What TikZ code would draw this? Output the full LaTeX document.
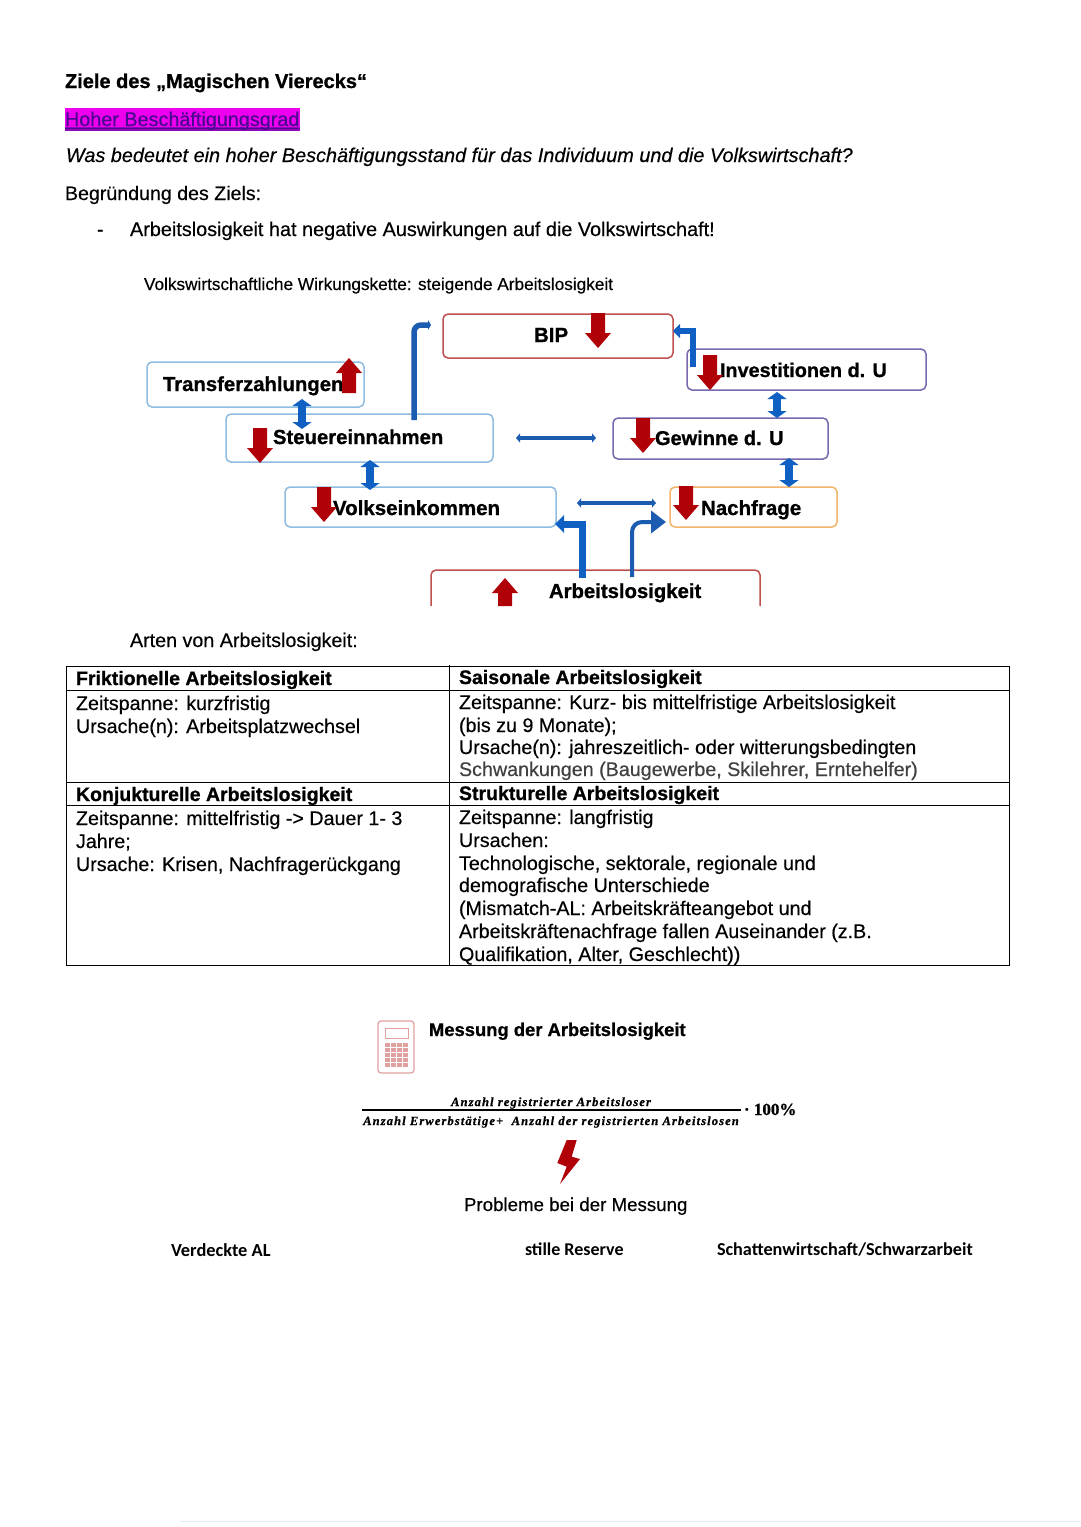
\documentclass[tikz,border=0pt]{standalone}
\usepackage{fontspec}
\setmainfont{Liberation Sans}[FakeBold=0.35,BoldFeatures={FakeBold=0.9},ItalicFeatures={FakeBold=0.35}]
\newfontfamily\serifF{Liberation Serif}[BoldFeatures={FakeBold=0.8},BoldItalicFeatures={FakeBold=0.8}]
\newfontfamily\carl{Carlito}
\usetikzlibrary{arrows.meta}
\definecolor{redB}{HTML}{C0504D}
\definecolor{blueB}{HTML}{8FBCE0}
\definecolor{purpB}{HTML}{7A68AE}
\definecolor{orB}{HTML}{F2B56B}
\definecolor{arrRed}{HTML}{B00008}
\definecolor{arrBlue}{HTML}{1060C4}
\definecolor{conBlue}{HTML}{1B5CB0}
\definecolor{calc}{HTML}{E0A0A0}
\definecolor{mag}{HTML}{EE00EE}
\definecolor{magText}{HTML}{4A0A90}
\newcommand{\fs}[1]{\fontsize{#1}{#1}\selectfont}
\newcommand{\T}[5]{\node[txt,font=#4] (#1) at (#2,#3) {#5};}
\newcommand{\Bx}[6]{\node[bx,draw=#6,minimum width=#4-#2,minimum height=#5-#3] (#1) at ({(#2+#4)/2},{(#3+#5)/2}) {};}
\newcommand{\RA}[3]{\fill[arrRed] (#1-7,#2) -- (#1+7,#2) -- (#1+7,{#3+(#2>#3?15:-15)}) -- (#1+13,{#3+(#2>#3?15:-15)}) -- (#1,#3) -- (#1-13,{#3+(#2>#3?15:-15)}) -- (#1-7,{#3+(#2>#3?15:-15)}) -- cycle;}
\tikzset{
  txt/.style={anchor=base west,inner sep=0pt,outer sep=0pt,text=black},
  bx/.style={shape=rectangle,rounded corners=5pt,line width=1.5pt,fill=white,inner sep=0pt,outer sep=0pt},
  dblv/.style={line width=8pt,arrBlue,{Triangle[width=19pt,length=7pt]}-{Triangle[width=19pt,length=7pt]}},
  dblh/.style={line width=4pt,conBlue,{Triangle[width=9pt,length=4pt]}-{Triangle[width=9pt,length=4pt]}},
  tl/.style={line width=1pt,black},
}
\begin{document}
\begin{tikzpicture}[x=1pt,y=-1pt]
\useasboundingbox (0,0) rectangle (1080,1527);
\fill[white] (0,0) rectangle (1080,1527);
\draw[black!8,line width=1pt] (180,1521) -- (1080,1521);
% header
\T{title}{65}{88}{\bfseries\fs{20}}{Ziele des „Magischen Vierecks“}
\fill[mag] (65,108) rectangle (300,131);
\fill[magText,opacity=.55] (65,127) rectangle (300,131);
\T{hoher}{65}{126}{\fs{19.8}}{\textcolor{magText}{Hoher Beschäftigungsgrad}}
\draw[magText,line width=1pt] (65,128) -- (299,128);
\T{frage}{66}{162}{\itshape\fs{19.85}}{Was bedeutet ein hoher Beschäftigungsstand für das Individuum und die Volkswirtschaft?}
\T{begr}{65}{200}{\fs{19.6}}{Begründung des Ziels:}
\T{dash}{97}{236}{\fs{19.8}}{-}
\T{al}{130}{236}{\fs{19.85}}{Arbeitslosigkeit hat negative Auswirkungen auf die Volkswirtschaft!}
\T{kette}{144}{290}{\fs{17.2}}{Volkswirtschaftliche Wirkungskette: steigende Arbeitslosigkeit}
% boxes
\Bx{bip}{443}{314}{673}{358}{redB}
\Bx{tz}{147}{362}{364}{407}{blueB}
\Bx{st}{226}{414}{493}{462}{blueB}
\Bx{vk}{285}{487}{556}{527}{blueB}
\Bx{inv}{687}{349}{926}{390}{purpB}
\Bx{gw}{613}{418}{828}{459}{purpB}
\Bx{na}{670}{487}{837}{527}{orB}
% open Arbeitslosigkeit box
\coordinate (arbL) at (431,606);
\coordinate (arbR) at (760,606);
\coordinate (arbTL) at (431,570);
\coordinate (arbTR) at (760,570);
\draw[redB,line width=1.5pt,rounded corners=5pt] (arbL) -- (arbTL) -- (arbTR) -- (arbR);
% connectors
\coordinate (c1) at (414,420);
\coordinate (c1e) at (431,325);
\draw[conBlue,line width=5.5pt,rounded corners=7pt,-{Triangle[width=10pt,length=3pt]}] (c1) |- (c1e);
\coordinate (c2) at (693,367);
\coordinate (c2e) at (673,331);
\draw[arrBlue,line width=6pt,-{Triangle[width=14pt,length=7pt]}] (c2) |- (c2e);
\coordinate (c3) at (582,578);
\coordinate (c3e) at (555,524);
\draw[arrBlue,line width=7pt,-{Triangle[width=17pt,length=9pt]}] (c3) |- (c3e);
\coordinate (c4) at (632,577);
\coordinate (c4e) at (666,522);
\draw[conBlue,line width=4pt,rounded corners=10pt,-{Triangle[width=22pt,length=15pt]}] (c4) |- (c4e);
\draw[dblh,shorten <=23pt,shorten >=17pt] (st.east) -- (st.east -| gw.west);
\coordinate (d1) at (577,503);
\coordinate (d2) at (656,503);
\draw[dblh] (d1) -- (d2);
\draw[dblv,shorten <=-8pt,shorten >=-15pt] ([xshift=46.5pt]tz.south) -- ([xshift=-57.5pt]st.north);
\draw[dblv,shorten <=-2pt,shorten >=-3pt] ([xshift=10.5pt]st.south) -- ([xshift=-50.5pt]vk.north);
\draw[dblv,shorten <=2pt,shorten >=-0pt] ([xshift=-29.5pt]inv.south) -- ([xshift=56.5pt]gw.north);
\draw[dblv,shorten <=-1pt,shorten >=0pt] ([xshift=68.5pt]gw.south) -- ([xshift=35.5pt]na.north);
% box labels
\T{lbip}{534}{342}{\bfseries\fs{20.5}}{BIP}
\T{ltz}{163}{391}{\bfseries\fs{20.3}}{Transferzahlungen}
\T{lst}{273}{444}{\bfseries\fs{20.3}}{Steuereinnahmen}
\T{lvk}{333}{515}{\bfseries\fs{20.5}}{Volkseinkommen}
\T{linv}{720}{377}{\bfseries\fs{19.8}}{Investitionen d. U}
\T{lgw}{655}{445}{\bfseries\fs{20}}{Gewinne d. U}
\T{lna}{701}{515}{\bfseries\fs{20.5}}{Nachfrage}
\T{larb}{549}{598}{\bfseries\fs{20.3}}{Arbeitslosigkeit}
% red arrows
\RA{598}{313}{348}
\RA{349}{393}{358}
\RA{260}{428}{463}
\RA{324}{487}{522}
\RA{505}{606}{578}
\RA{710}{355}{390}
\RA{643}{418}{453}
\RA{686}{486}{520}
% table
\T{arten}{130}{647}{\fs{19.7}}{Arten von Arbeitslosigkeit:}
\draw[tl] (66,666) rectangle (1009,965);
\draw[tl] (449,665) -- (449,965);
\draw[tl] (66,690) -- (1009,690);
\draw[tl] (66,782) -- (1009,782);
\draw[tl] (66,805) -- (1009,805);
\T{a1}{76}{685}{\bfseries\fs{19.5}}{Friktionelle Arbeitslosigkeit}
\T{a2}{76}{710}{\fs{19.7}}{Zeitspanne: kurzfristig}
\T{a3}{76}{733}{\fs{19.7}}{Ursache(n): Arbeitsplatzwechsel}
\T{b1}{459}{684}{\bfseries\fs{19.5}}{Saisonale Arbeitslosigkeit}
\T{b2}{459}{709}{\fs{19.7}}{Zeitspanne: Kurz- bis mittelfristige Arbeitslosigkeit}
\T{b3}{459}{732}{\fs{19.7}}{(bis zu 9 Monate);}
\T{b4}{459}{754}{\fs{19.7}}{Ursache(n): jahreszeitlich- oder witterungsbedingten}
\T{b5}{459}{776}{\fs{19.7}}{\textcolor{black!75}{Schwankungen (Baugewerbe, Skilehrer, Erntehelfer)}}
\T{c1t}{76}{801}{\bfseries\fs{19.5}}{Konjukturelle Arbeitslosigkeit}
\T{c2t}{76}{825}{\fs{19.7}}{Zeitspanne: mittelfristig -> Dauer 1- 3}
\T{c3t}{76}{848}{\fs{19.7}}{Jahre;}
\T{c4t}{76}{871}{\fs{19.7}}{Ursache: Krisen, Nachfragerückgang}
\T{e1}{459}{800}{\bfseries\fs{19.5}}{Strukturelle Arbeitslosigkeit}
\T{e2}{459}{824}{\fs{19.7}}{Zeitspanne: langfristig}
\T{e3}{459}{847}{\fs{19.7}}{Ursachen:}
\T{e4}{459}{870}{\fs{19.7}}{Technologische, sektorale, regionale und}
\T{e5}{459}{892}{\fs{19.7}}{demografische Unterschiede}
\T{e6}{459}{915}{\fs{19.7}}{(Mismatch-AL: Arbeitskräfteangebot und}
\T{e7}{459}{938}{\fs{19.7}}{Arbeitskräftenachfrage fallen Auseinander (z.B.}
\T{e8}{459}{961}{\fs{19.7}}{Qualifikation, Alter, Geschlecht))}
% calculator
\draw[calc,line width=1.2pt,rounded corners=3pt] (378,1021) rectangle (414,1073);
\draw[calc,line width=1pt] (385,1028) rectangle (408,1038);
\foreach \r in {0,...,4} \foreach \c in {0,...,3}
  \fill[calc] ({385+6*\c},{1043+5*\r}) rectangle ++(5,4);
\T{mess}{429}{1036}{\bfseries\fs{18.4}}{Messung der Arbeitslosigkeit}
% formula
\node[font=\serifF\bfseries\itshape\fs{12.5}\addfontfeatures{LetterSpace=9},inner sep=0pt,anchor=base] (num) at (551,1106) {Anzahl registrierter Arbeitsloser};
\node[font=\serifF\bfseries\itshape\fs{12.5}\addfontfeatures{LetterSpace=9},inner sep=0pt,anchor=base] (den) at (551,1125) {Anzahl Erwerbstätige+ \ Anzahl der registrierten Arbeitslosen};
\coordinate (fl) at (362,1110);
\coordinate (fr) at (741,1110);
\draw[black,line width=1.3pt] (fl) -- (fr);
\T{proz}{744}{1115}{\serifF\bfseries\fs{17}}{· 100\%}
% lightning
\fill[arrRed] (566.7,1140) -- (576.7,1140) -- (571.7,1156.7) -- (580,1159) -- (560,1184) -- (566.7,1166.7) -- (557.3,1163) -- cycle;
\T{prob}{464}{1211}{\fs{18.7}}{Probleme bei der Messung}
\T{v1}{171}{1256}{\carl\bfseries\fs{18.4}}{Verdeckte AL}
\T{v2}{525}{1255}{\carl\bfseries\fs{18}}{stille Reserve}
\T{v3}{717}{1255}{\carl\bfseries\fs{18.2}}{Schattenwirtschaft/Schwarzarbeit}
\end{tikzpicture}
\end{document}
